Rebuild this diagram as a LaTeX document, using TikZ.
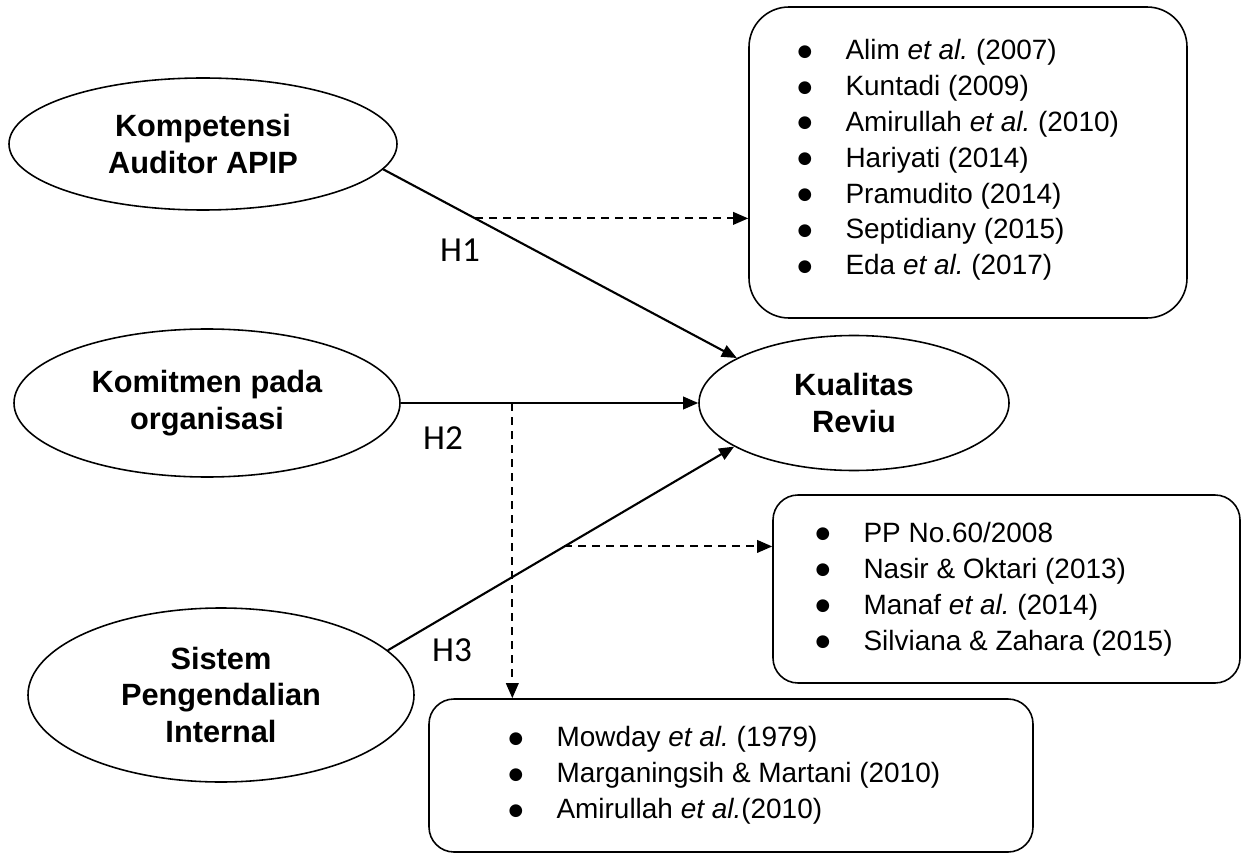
\documentclass[tikz,border=0pt]{standalone}
\usepackage{fontspec}
\setmainfont{Liberation Sans}
\newfontfamily\hfont{Carlito}
\newfontfamily\symfont{DejaVu Sans}
\usetikzlibrary{arrows.meta,shapes.geometric}
\frenchspacing
\newcommand{\butir}[1]{\makebox[0.96cm][l]{\raisebox{2pt}{\symfont\fontsize{9.5}{10}\selectfont ●}}#1}
\tikzset{
	varnode/.style={draw, ellipse, line width=0.9pt, inner sep=0pt, align=center, font=\fontsize{17.5}{21}\selectfont\bfseries},
	refbox/.style={draw, rounded corners=#1, line width=0.9pt, inner sep=0pt},
	refbox/.default=0.5cm,
	reftext/.style={anchor=west, inner sep=0pt, align=left, font=\fontsize{15.9}{20.4}\selectfont},
	hyp/.style={line width=1.2pt, -{Triangle[length=0.3cm,width=0.25cm]}},
	cite/.style={line width=1.1pt, dash pattern=on 0.16cm off 0.12cm, -{Triangle[length=0.3cm,width=0.25cm]}},
	hlabel/.style={font=\fontsize{20}{24}\selectfont\hfont}
}

\begin{document}
\begin{tikzpicture}
	%%%%% START %%%%%
	\useasboundingbox (0,0) rectangle (24.86,17.08);
	
	% variabel
	\node[varnode, minimum width=7.76cm, minimum height=2.64cm] (kompetensi) at (4.06,14.20) {Kompetensi\\Auditor APIP};
	\node[varnode, minimum width=7.72cm, minimum height=2.96cm] (komitmen) at (4.14,9.02) {Komitmen pada\\organisasi};
	\node[varnode, minimum width=7.72cm, minimum height=3.48cm] (spi) at (4.42,3.18) {Sistem\\Pengendalian\\Internal};
	\node[varnode, minimum width=6.20cm, minimum height=2.70cm] (kualitas) at (17.08,9.02) {Kualitas\\Reviu};
	
	% rujukan
	\node[refbox=0.8cm, minimum width=8.76cm, minimum height=6.22cm] (ref1) at (19.36,13.83) {};
	\node[reftext] (list1) at ([xshift=0.98cm, yshift=0.05cm]ref1.west) {%
		\butir{Alim \textit{et al.} (2007)}\\
		\butir{Kuntadi (2009)}\\
		\butir{Amirullah \textit{et al.} (2010)}\\
		\butir{Hariyati (2014)}\\
		\butir{Pramudito (2014)}\\
		\butir{Septidiany (2015)}\\
		\butir{Eda \textit{et al.} (2017)}};
	
	\node[refbox, minimum width=9.34cm, minimum height=3.76cm] (ref2) at (20.13,5.30) {};
	\node[reftext] (list2) at ([xshift=0.86cm]ref2.west) {%
		\butir{PP No.60/2008}\\
		\butir{Nasir \& Oktari (2013)}\\
		\butir{Manaf \textit{et al.} (2014)}\\
		\butir{Silviana \& Zahara (2015)}};
	
	\node[refbox, minimum width=12.08cm, minimum height=3.06cm] (ref3) at (14.62,1.57) {};
	\node[reftext] (list3) at ([xshift=1.60cm]ref3.west) {%
		\butir{Mowday \textit{et al.} (1979)}\\
		\butir{Marganingsih \& Martani (2010)}\\
		\butir{Amirullah \textit{et al.}(2010)}};
	
	% hipotesis
	\draw[hyp] (kompetensi.-8) -- coordinate[pos=0.26] (c1) (kualitas.159);
	\draw[hyp] (komitmen.east) -- coordinate[pos=0.375] (c2) (kualitas.west);
	\draw[hyp] (spi.15.6) -- coordinate[pos=0.51] (c3) (kualitas.200);
	
	\draw[cite] (c1) -- (c1 -| ref1.west);
	\draw[cite] (c2) -- (c2 |- ref3.north);
	\draw[cite] (c3) -- (c3 -| ref2.west);
	
	\node[hlabel] (h1) at (9.20,12.08) {H1};
	\node[hlabel] (h2) at (8.86,8.32) {H2};
	\node[hlabel] (h3) at (9.04,4.08) {H3};
	
	%%%%% END %%%%%
\end{tikzpicture}
\end{document}
